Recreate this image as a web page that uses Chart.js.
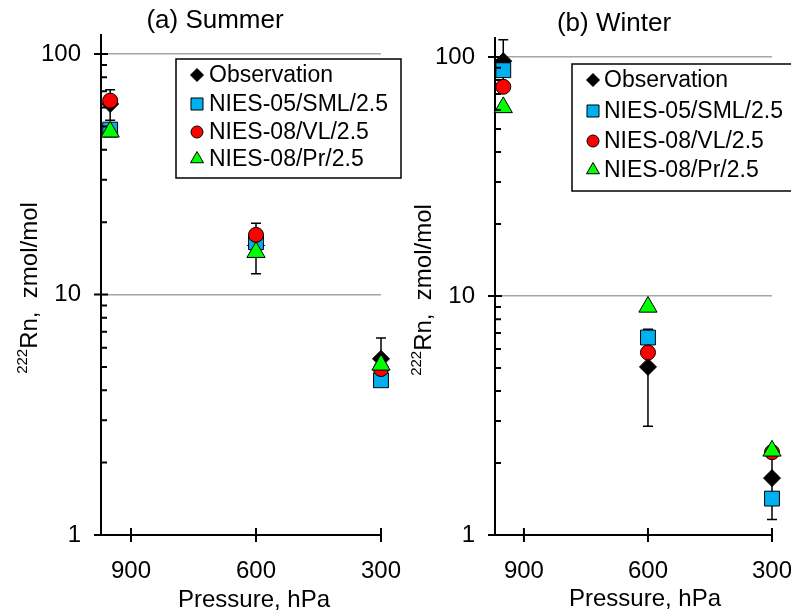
<!DOCTYPE html>
<html>
<head>
<meta charset="utf-8">
<script src="https://cdn.jsdelivr.net/npm/chart.js@4.4.1/dist/chart.umd.min.js"></script>
<style>
html, body { margin: 0; padding: 0; background: #fff; }
#wrap { position: relative; width: 791px; height: 613px; overflow: hidden; }
#summer { position: absolute; left: 0; top: 0; }
#winter { position: absolute; left: 394px; top: 0; }
</style>
</head>
<body>
<div id="wrap">
  <canvas id="summer" width="410" height="613"></canvas>
  <canvas id="winter" width="410" height="613"></canvas>
</div>
<script>
const pressure = [950, 600, 300];
const xTicks = [900, 600, 300];
const yTicks = [1, 10, 100];
const seriesNames = ["Observation", "NIES-05/SML/2.5", "NIES-08/VL/2.5", "NIES-08/Pr/2.5"];

// (a) Summer
const obsSummer = [62, 16, 5.4];
const obsErrSummer = [9, 3.8, 1.2];
const smlSummer = [48.5, 16.5, 4.4];
const vlSummer = [64, 17.7, 4.9];
const prSummer = [47.5, 15, 5.1];

// (b) Winter
const obsWinter = [96, 5.05, 1.73];
const obsErrWinter = [22, 2.2, 0.57];
const smlWinter = [88, 6.7, 1.42];
const vlWinter = [75, 5.8, 2.22];
const prWinter = [61.5, 9, 2.25];

const FONT = '"Liberation Sans", Arial, sans-serif';
Chart.defaults.font.family = FONT;

const markers = [
    { pointStyle: "rectRot", radius: 8.5, bg: "#000000", legendRadius: 6.5 },
    { pointStyle: "rect", radius: 10.5, bg: "#00B0F0", legendRadius: 8.5 },
    { pointStyle: "circle", radius: 7.5, bg: "#FF0000", legendRadius: 6 },
    { pointStyle: "triangle", radius: 10.5, bg: "#00FF00", legendRadius: 7.5 }
];

/* -------------------------------
   error bars, ticks, titles, legend
--------------------------------*/

const panelDecor = {
    id: "panelDecor",
    beforeDatasetsDraw(chart, args, o) {
        const { ctx, scales: { x, y } } = chart;
        ctx.save();
        ctx.strokeStyle = "#000";
        ctx.lineWidth = 1.5;
        o.err.forEach((e, i) => {
            const px = x.getPixelForValue(pressure[i]);
            const top = y.getPixelForValue(o.obs[i] + e);
            const bot = y.getPixelForValue(o.obs[i] - e);
            ctx.beginPath();
            ctx.moveTo(px, top); ctx.lineTo(px, bot);
            ctx.moveTo(px - 5, top); ctx.lineTo(px + 5, top);
            ctx.moveTo(px - 5, bot); ctx.lineTo(px + 5, bot);
            ctx.stroke();
        });
        ctx.restore();
    },
    afterDraw(chart, args, o) {
        const { ctx, chartArea: a, scales: { x, y } } = chart;
        ctx.save();

        // tick marks
        ctx.strokeStyle = "#000";
        ctx.lineWidth = 2;
        ctx.beginPath();
        for (let d = 1; d <= 100; d *= 10) {
            for (let m = 1; m <= 9; m++) {
                const v = d * m;
                if (v > y.max) break;
                const py = y.getPixelForValue(v);
                if (m === 1) { ctx.moveTo(a.left - 7, py); ctx.lineTo(a.left + 7, py); }
                else { ctx.moveTo(a.left, py); ctx.lineTo(a.left + 6, py); }
            }
        }
        xTicks.forEach(v => {
            const px = x.getPixelForValue(v);
            ctx.moveTo(px, a.bottom - 7);
            ctx.lineTo(px, a.bottom + 7);
        });
        ctx.stroke();

        ctx.fillStyle = "#000";

        // panel title
        ctx.font = "26px " + FONT;
        ctx.textAlign = "center";
        ctx.textBaseline = "alphabetic";
        ctx.fillText(o.title, o.titleX, o.titleY);

        // x axis title
        ctx.font = "24px " + FONT;
        ctx.fillText("Pressure, hPa", o.xTitleX, o.xTitleY);

        // y axis title with superscript
        ctx.save();
        ctx.translate(o.yTitleX, o.yTitleY);
        ctx.rotate(-Math.PI / 2);
        ctx.textAlign = "left";
        ctx.font = "15px " + FONT;
        const sup = "222";
        const ws = ctx.measureText(sup).width;
        ctx.font = "24px " + FONT;
        const main = "Rn,  zmol/mol";
        const wm = ctx.measureText(main).width;
        let sx = -(ws + wm) / 2;
        ctx.font = "15px " + FONT;
        ctx.fillText(sup, sx, -10);
        ctx.font = "24px " + FONT;
        ctx.fillText(main, sx + ws, 0);
        ctx.restore();

        // legend
        const L = o.legend;
        ctx.fillStyle = "#fff";
        ctx.fillRect(L.left, L.top, L.width, L.height);
        ctx.strokeStyle = "#000";
        ctx.lineWidth = 1.5;
        ctx.strokeRect(L.left, L.top, L.width, L.height);
        ctx.font = "23px " + FONT;
        ctx.textAlign = "left";
        ctx.textBaseline = "middle";
        seriesNames.forEach((name, i) => {
            const ry = L.rows[i];
            const mk = markers[i];
            ctx.fillStyle = mk.bg;
            ctx.strokeStyle = "#000";
            ctx.lineWidth = 1;
            Chart.helpers.drawPoint(ctx, {
                pointStyle: mk.pointStyle, radius: mk.legendRadius, rotation: 0, borderWidth: 1
            }, L.markerX, ry);
            ctx.fillStyle = "#000";
            ctx.fillText(name, L.textX, ry + 1);
        });

        ctx.restore();
    }
};

function makePanel(id, series, obs, err, xMax, pad, decor) {
    const datasets = series.map((vals, i) => ({
        label: seriesNames[i],
        data: pressure.map((p, k) => ({ x: p, y: vals[k] })),
        showLine: false,
        clip: false,
        pointStyle: markers[i].pointStyle,
        pointRadius: markers[i].radius,
        pointBackgroundColor: markers[i].bg,
        pointBorderColor: "#000",
        pointBorderWidth: 1,
        order: 4 - i
    }));

    return new Chart(document.getElementById(id), {
        type: "scatter",
        data: { datasets },
        options: {
            responsive: false,
            animation: false,
            devicePixelRatio: 1,
            events: [],
            layout: { padding: pad, autoPadding: false },
            plugins: {
                legend: { display: false },
                tooltip: { enabled: false },
                panelDecor: Object.assign({ obs, err }, decor)
            },
            scales: {
                x: {
                    type: "linear",
                    reverse: true,
                    min: 300,
                    max: xMax,
                    afterBuildTicks: s => { s.ticks = xTicks.map(v => ({ value: v })); },
                    afterFit: s => { s.height = 78; s.paddingLeft = 0; s.paddingRight = 0; },
                    ticks: { font: { size: 24 }, color: "#000", padding: 22, maxRotation: 0, autoSkip: false },
                    grid: { display: false, drawTicks: false },
                    border: { color: "#000", width: 2 }
                },
                y: {
                    type: "logarithmic",
                    min: 1,
                    max: 120,
                    afterBuildTicks: s => { s.ticks = yTicks.map(v => ({ value: v })); },
                    afterFit: s => { s.width = 101; s.paddingTop = 0; s.paddingBottom = 0; },
                    ticks: { callback: v => String(v), font: { size: 24 }, color: "#000", padding: 20 },
                    grid: {
                        drawTicks: false,
                        lineWidth: 1.5,
                        color: c => (c.tick && c.tick.value > 1 ? "#A6A6A6" : "rgba(0,0,0,0)")
                    },
                    border: { color: "#000", width: 2 }
                }
            }
        },
        plugins: [panelDecor]
    });
}

makePanel("summer",
    [obsSummer, smlSummer, vlSummer, prSummer], obsSummer, obsErrSummer, 972,
    { top: 35, right: 29, left: 0, bottom: 0 },
    {
        title: "(a) Summer", titleX: 215, titleY: 28,
        xTitleX: 254, xTitleY: 607,
        yTitleX: 37, yTitleY: 288,
        legend: { left: 176, top: 59, width: 225, height: 119, markerX: 197, textX: 209, rows: [75, 104, 132, 159] }
    });

makePanel("winter",
    [obsWinter, smlWinter, vlWinter, prWinter], obsWinter, obsErrWinter, 970,
    { top: 38, right: 32, left: 0, bottom: 0 },
    {
        title: "(b) Winter", titleX: 220, titleY: 31,
        xTitleX: 251, xTitleY: 606,
        yTitleX: 37, yTitleY: 290,
        legend: { left: 178, top: 64, width: 240, height: 127, markerX: 199, textX: 210, rows: [80, 111, 141, 170] }
    });
</script>
</body>
</html>
